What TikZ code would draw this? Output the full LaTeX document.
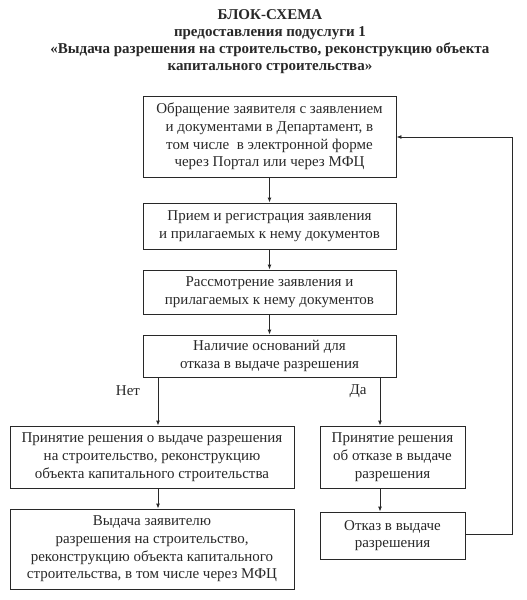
\documentclass[tikz,border=0pt]{standalone}
\usepackage{fontspec}
\setmainfont{Liberation Serif}
\usetikzlibrary{arrows.meta}
\definecolor{ink}{RGB}{40,40,40}
\begin{document}
\begin{tikzpicture}[x=1pt,y=-1pt,
  box/.style={draw=ink,line width=0.9pt,align=center,text=ink,font=\fontsize{15}{17.7}\selectfont,inner sep=0pt},
  conn/.style={draw=ink,line width=0.9pt,-{Latex[length=5pt,width=4pt]}},
  ttl/.style={align=center,text=ink,font=\fontsize{15}{17}\selectfont\bfseries}]
\useasboundingbox (0,0) rectangle (527,600);
\node[ttl] (title) at (270,42) {БЛОК-СХЕМА\\предоставления подуслуги 1\\«Выдача разрешения на строительство, реконструкцию объекта\\капитального строительства»};
\node[box,minimum width=253pt,minimum height=81pt] (b1) at (269.5,136.5) {Обращение заявителя с заявлением\\ и документами в Департамент, в\\том числе \ в электронной форме\\через Портал или через МФЦ};
\node[box,minimum width=253pt,minimum height=46pt] (b2) at (269.5,226) {Прием и регистрация заявления\\и прилагаемых к нему документов};
\node[box,minimum width=253pt,minimum height=44pt] (b3) at (269.5,292) {Рассмотрение заявления и\\прилагаемых к нему документов};
\node[box,minimum width=253pt,minimum height=42pt] (b4) at (269.5,356) {Наличие оснований для\\отказа в выдаче разрешения};
\node[box,minimum width=284pt,minimum height=62pt] (b5) at (152,457) {Принятие решения о выдаче разрешения\\на строительство, реконструкцию\\объекта капитального строительства};
\node[box,minimum width=145pt,minimum height=62pt] (b6) at (392.5,457) {Принятие решения\\об отказе в выдаче\\разрешения};
\node[box,minimum width=284pt,minimum height=80pt] (b7) at (152,549) {Выдача заявителю\\разрешения на строительство,\\реконструкцию объекта капитального\\строительства, в том числе через МФЦ};
\node[box,minimum width=145pt,minimum height=47pt] (b8) at (392.5,535.5) {Отказ в выдаче\\разрешения};
\node[text=ink,font=\fontsize{15}{17}\selectfont] (net) at (128,391) {Нет};
\node[text=ink,font=\fontsize{15}{17}\selectfont] (da) at (358,391) {Да};
\coordinate (r1) at (512,534);
\coordinate (r2) at (512,137);
\draw[conn] (b1.south) -- (b2.north);
\draw[conn] (b2.south) -- (b3.north);
\draw[conn] (b3.south) -- (b4.north);
\draw[conn] (158,0 |- b4.south) -- (158,0 |- b5.north);
\draw[conn] (380,0 |- b4.south) -- (380,0 |- b6.north);
\draw[conn] (158,0 |- b5.south) -- (158,0 |- b7.north);
\draw[conn] (b6.south -| 380,0) -- (b8.north -| 380,0);
\draw[conn] (b8.east |- r1) -- (r1) -- (r2) -- (b1.east |- r2);
\end{tikzpicture}
\end{document}
